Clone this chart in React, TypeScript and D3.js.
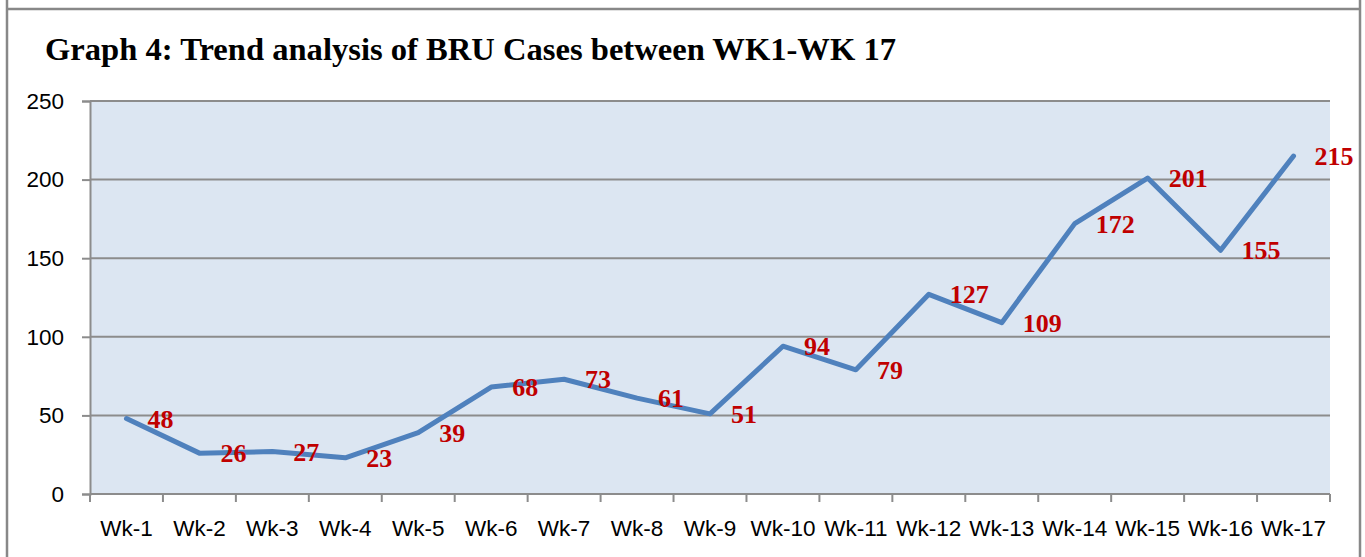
import React, { useEffect, useRef } from 'react';
import * as d3 from 'd3';

// chart data
const weeks = ['Wk-1', 'Wk-2', 'Wk-3', 'Wk-4', 'Wk-5', 'Wk-6', 'Wk-7', 'Wk-8', 'Wk-9',
  'Wk-10', 'Wk-11', 'Wk-12', 'Wk-13', 'Wk-14', 'Wk-15', 'Wk-16', 'Wk-17'];
const cases = [48, 26, 27, 23, 39, 68, 73, 61, 51, 94, 79, 127, 109, 172, 201, 155, 215];
const yTicks = [0, 50, 100, 150, 200, 250];
const title = 'Graph 4: Trend analysis of BRU Cases between WK1-WK 17';

const App = () => {
  const chartRef = useRef<SVGSVGElement>(null);

  useEffect(() => {
    document.body.style.margin = '0';
    const svg = d3.select(chartRef.current);
    svg.selectAll('*').remove();

    const width = 1365;
    const height = 557;
    const marginLeft = 90;
    const marginRight = 35;
    const marginTop = 101;
    const marginBottom = 63;

    const x = d3.scaleBand()
      .domain(weeks)
      .range([marginLeft, width - marginRight])
      .padding(0);

    const y = d3.scaleLinear()
      .domain([0, 250])
      .range([height - marginBottom, marginTop]);

    // outer frame
    svg.append('path')
      .attr('d', `M7,0 V${height} M7,9 H1359 M1360,0 V${height}`)
      .attr('fill', 'none')
      .attr('stroke', '#888888')
      .attr('stroke-width', 2.5);

    // title
    svg.append('text')
      .attr('x', 45)
      .attr('y', 60)
      .attr('font-family', '"Liberation Serif", serif')
      .attr('font-weight', 'bold')
      .attr('font-size', 32.6)
      .attr('fill', '#000')
      .text(title);

    // plot background
    svg.append('rect')
      .attr('x', marginLeft)
      .attr('y', marginTop)
      .attr('width', width - marginLeft - marginRight)
      .attr('height', height - marginTop - marginBottom)
      .attr('fill', '#dce6f2');

    // gridlines
    svg.append('g')
      .selectAll('line')
      .data(yTicks.filter(d => d > 0))
      .join('line')
      .attr('x1', marginLeft)
      .attr('x2', width - marginRight)
      .attr('y1', d => y(d))
      .attr('y2', d => y(d))
      .attr('stroke', '#8c8c8c')
      .attr('stroke-width', 2);

    // y axis
    const yAxis = svg.append('g')
      .attr('transform', `translate(${marginLeft},0)`)
      .call(d3.axisLeft(y).tickValues(yTicks).tickSize(8).tickPadding(18));
    yAxis.selectAll('text')
      .attr('font-family', '"Liberation Sans", Arial, sans-serif')
      .attr('font-size', 22.5)
      .attr('fill', '#000');
    yAxis.selectAll('.domain, .tick line')
      .attr('stroke', '#8c8c8c')
      .attr('stroke-width', 2);

    // x axis with ticks between categories
    const xAxis = svg.append('g')
      .attr('transform', `translate(0,${height - marginBottom})`);
    xAxis.append('line')
      .attr('x1', marginLeft)
      .attr('x2', width - marginRight)
      .attr('stroke', '#8c8c8c')
      .attr('stroke-width', 2);
    xAxis.selectAll('line.tick')
      .data([...weeks.map(w => x(w)!), width - marginRight])
      .join('line')
      .attr('class', 'tick')
      .attr('x1', d => d)
      .attr('x2', d => d)
      .attr('y1', 0)
      .attr('y2', 8)
      .attr('stroke', '#8c8c8c')
      .attr('stroke-width', 2);
    xAxis.selectAll('text')
      .data(weeks)
      .join('text')
      .attr('x', d => x(d)! + x.bandwidth() / 2)
      .attr('y', 42)
      .attr('text-anchor', 'middle')
      .attr('font-family', '"Liberation Sans", Arial, sans-serif')
      .attr('font-size', 22.5)
      .attr('fill', '#000')
      .text(d => d);

    // the trend line
    const line = d3.line<number>()
      .x((d, i) => x(weeks[i])! + x.bandwidth() / 2)
      .y(d => y(d));

    svg.append('path')
      .datum(cases)
      .attr('fill', 'none')
      .attr('stroke', '#4f81bd')
      .attr('stroke-width', 5)
      .attr('stroke-linejoin', 'round')
      .attr('stroke-linecap', 'round')
      .attr('d', line);

    // data labels to the right of each point
    svg.append('g')
      .selectAll('text')
      .data(cases)
      .join('text')
      .attr('x', (d, i) => x(weeks[i])! + x.bandwidth() / 2 + 21)
      .attr('y', d => y(d))
      .attr('dy', '0.35em')
      .attr('font-family', '"Liberation Serif", serif')
      .attr('font-weight', 'bold')
      .attr('font-size', 26)
      .attr('fill', '#c00000')
      .text(d => d);
  }, []);

  return <svg ref={chartRef} width={1365} height={557} style={{ display: 'block' }} />;
};

export default App;
